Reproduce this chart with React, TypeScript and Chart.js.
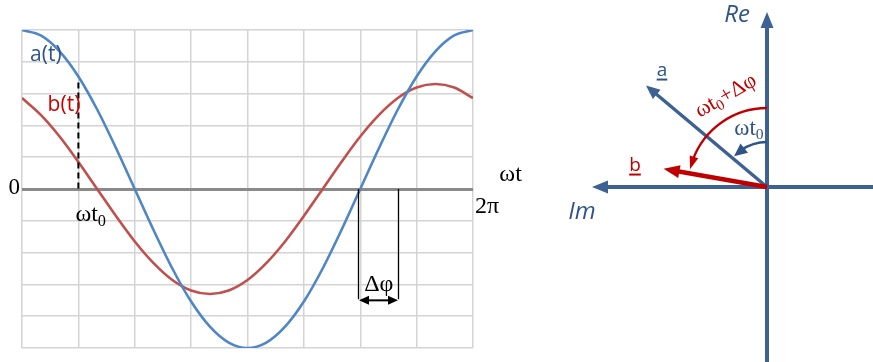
import React, { useEffect, useRef } from "react";
import { Chart, registerables } from "chart.js";

Chart.register(...registerables);

// ---------- time plot data (ωt in degrees, one grid cell = π/4) ----------
const angleDeg = [0, 15, 30, 45, 60, 75, 90, 105, 120, 135, 150, 165, 180, 195, 210, 225, 240, 255, 270, 285, 300, 315, 330, 345, 360];
const aValues = [5.0, 4.83, 4.33, 3.54, 2.5, 1.29, 0.0, -1.29, -2.5, -3.54, -4.33, -4.83, -5.0, -4.83, -4.33, -3.54, -2.5, -1.29, 0.0, 1.29, 2.5, 3.54, 4.33, 4.83, 5.0];
const bValues = [2.86, 2.33, 1.65, 0.85, 0.0, -0.85, -1.65, -2.33, -2.86, -3.19, -3.3, -3.19, -2.86, -2.33, -1.65, -0.85, 0.0, 0.85, 1.65, 2.33, 2.86, 3.19, 3.3, 3.19, 2.86];
const seriesNames = ["a(t)", "b(t)"];
const xRangeDeg = [0, 360];
const xGridStepDeg = 45;
const yRange = [-5, 5];
const yGridStep = 1;
const omegaT0Deg = 45;
const omegaT0Height = 3.35;
const deltaPhiDeg = [268, 300];
const deltaPhiDepth = -3.47;

// ---------- phasor diagram data ----------
const phasorNames = ["a", "b"];
const phasorMagnitudes = [158, 105];
const phasorAnglesDeg = [50, 80];
const arcRadii = [45, 79];
const arcAnglesDeg = [47, 77];
const reAxisRange = [-175, 175];
const imAxisRange = [-106, 175];

// ---------- styles ----------
const CURVE_BLUE = "#4f86c6";
const CURVE_RED = "#c0504d";
const GRID = "#d4d4d4";
const ZERO = "#8a8a8a";
const AXIS_BLUE = "#3d6192";
const LABEL_BLUE = "#2f5489";
const RED = "#c00000";
const TEXT_RED = "#d00000";
const SERIF = '"Liberation Serif", "DejaVu Serif", serif';
const SANS = '"Open Sans", "Noto Sans", sans-serif';

type Part = { t: string; sub?: boolean };
type RichOpts = {
  size: number;
  family: string;
  color: string;
  align?: "left" | "center" | "right";
  style?: string;
  rotate?: number;
  underline?: boolean;
};

function drawRich(ctx: CanvasRenderingContext2D, parts: Part[], x: number, y: number, o: RichOpts) {
  const align = o.align || "center";
  const subSize = o.size * 0.68;
  const fontOf = (sub?: boolean) => `${o.style || ""} ${sub ? subSize : o.size}px ${o.family}`.trim();
  ctx.save();
  ctx.translate(x, y);
  if (o.rotate) ctx.rotate((o.rotate * Math.PI) / 180);
  let total = 0;
  const widths = parts.map((p) => {
    ctx.font = fontOf(p.sub);
    const w = ctx.measureText(p.t).width;
    total += w;
    return w;
  });
  const start = align === "center" ? -total / 2 : align === "right" ? -total : 0;
  let cx = start;
  ctx.fillStyle = o.color;
  ctx.textBaseline = "middle";
  ctx.textAlign = "left";
  parts.forEach((p, i) => {
    ctx.font = fontOf(p.sub);
    ctx.fillText(p.t, cx, p.sub ? o.size * 0.26 : 0);
    cx += widths[i];
  });
  if (o.underline) {
    ctx.strokeStyle = o.color;
    ctx.lineWidth = 2;
    ctx.beginPath();
    ctx.moveTo(start, o.size * 0.45);
    ctx.lineTo(start + total, o.size * 0.45);
    ctx.stroke();
  }
  ctx.restore();
}

function arrowHead(ctx: CanvasRenderingContext2D, tx: number, ty: number, ux: number, uy: number, len: number, half: number, color: string) {
  const bx = tx - ux * len;
  const by = ty - uy * len;
  ctx.save();
  ctx.fillStyle = color;
  ctx.beginPath();
  ctx.moveTo(tx, ty);
  ctx.lineTo(bx - uy * half, by + ux * half);
  ctx.lineTo(bx + uy * half, by - ux * half);
  ctx.closePath();
  ctx.fill();
  ctx.restore();
}

const timeAnnotations = {
  id: "timeAnnotations",
  afterDraw(chart: any) {
    const ctx: CanvasRenderingContext2D = chart.ctx;
    const xs = chart.scales.x;
    const ys = chart.scales.y;
    const px = (v: number) => xs.getPixelForValue(v);
    const py = (v: number) => ys.getPixelForValue(v);
    ctx.save();
    // ωt0 dashed marker
    ctx.strokeStyle = "#000";
    ctx.lineWidth = 2;
    ctx.setLineDash([6, 4]);
    ctx.beginPath();
    ctx.moveTo(px(omegaT0Deg), py(omegaT0Height));
    ctx.lineTo(px(omegaT0Deg), py(0));
    ctx.stroke();
    ctx.setLineDash([]);
    // Δφ bracket
    ctx.lineWidth = 1.3;
    ctx.beginPath();
    deltaPhiDeg.forEach((d) => {
      ctx.moveTo(Math.round(px(d)) + 0.5, py(0));
      ctx.lineTo(Math.round(px(d)) + 0.5, py(deltaPhiDepth));
    });
    ctx.stroke();
    const ay = py(deltaPhiDepth) + 1;
    const x1 = Math.round(px(deltaPhiDeg[0])) + 1;
    const x2 = Math.round(px(deltaPhiDeg[1]));
    ctx.lineWidth = 2;
    ctx.beginPath();
    ctx.moveTo(x1 + 8, ay);
    ctx.lineTo(x2 - 8, ay);
    ctx.stroke();
    arrowHead(ctx, x1, ay, -1, 0, 10, 4.5, "#000");
    arrowHead(ctx, x2, ay, 1, 0, 10, 4.5, "#000");
    ctx.restore();

    // texts
    drawRich(ctx, [{ t: seriesNames[0] }], px(19), py(4.2), { size: 21, family: SANS, color: LABEL_BLUE });
    drawRich(ctx, [{ t: seriesNames[1] }], px(33.5), py(2.65), { size: 21, family: SANS, color: TEXT_RED });
    drawRich(ctx, [{ t: "0" }], px(0) - 2, py(0) - 1, { size: 23, family: SERIF, color: "#000", align: "right" });
    drawRich(ctx, [{ t: "ωt" }], px(390), py(0.44), { size: 24, family: SERIF, color: "#000" });
    drawRich(ctx, [{ t: "2π" }], px(360) + 2, py(-0.57), { size: 24, family: SERIF, color: "#000", align: "left" });
    drawRich(ctx, [{ t: "ωt" }, { t: "0", sub: true }], px(omegaT0Deg) - 3, py(-0.82), { size: 24, family: SERIF, color: "#000", align: "left" });
    drawRich(ctx, [{ t: "Δφ" }], px((deltaPhiDeg[0] + deltaPhiDeg[1]) / 2) + 1, py(-3.02), { size: 24, family: SERIF, color: "#000" });
  },
};

const tipStore = new Map<number, { x: number; y: number; ux: number; uy: number }>();

const phasorPlugin = {
  id: "phasorPlugin",
  beforeDatasetDraw(chart: any, args: any) {
    const ds = chart.data.datasets[args.index];
    if (!ds.arrow) return;
    const pts = args.meta.data;
    const p1 = pts[pts.length - 1];
    const p0 = pts[pts.length - 2];
    const dx = p1.x - p0.x;
    const dy = p1.y - p0.y;
    const L = Math.hypot(dx, dy);
    const tip = { x: p1.x, y: p1.y, ux: dx / L, uy: dy / L };
    tipStore.set(args.index, tip);
    p1.x = tip.x - tip.ux * ds.arrow.len * 0.7;
    p1.y = tip.y - tip.uy * ds.arrow.len * 0.7;
  },
  afterDatasetDraw(chart: any, args: any) {
    const ds = chart.data.datasets[args.index];
    if (!ds.arrow) return;
    const tip = tipStore.get(args.index);
    if (!tip) return;
    const pts = args.meta.data;
    const p1 = pts[pts.length - 1];
    p1.x = tip.x;
    p1.y = tip.y;
    arrowHead(chart.ctx, tip.x, tip.y, tip.ux, tip.uy, ds.arrow.len, ds.arrow.half, ds.borderColor);
  },
  afterDatasetsDraw(chart: any) {
    const ctx: CanvasRenderingContext2D = chart.ctx;
    const xs = chart.scales.x;
    const ys = chart.scales.y;
    const cx = xs.getPixelForValue(0);
    const cy = ys.getPixelForValue(0);
    const unit = Math.abs(ys.getPixelForValue(1) - cy);
    const arcColors = [LABEL_BLUE, RED];
    const heads = [
      { len: 13, half: 6 },
      { len: 13, half: 4.5 },
    ];
    arcRadii.forEach((r, i) => {
      const R = r * unit;
      const th = (arcAnglesDeg[i] * Math.PI) / 180;
      const pt = (t: number) => ({ x: cx - R * Math.sin(t), y: cy - R * Math.cos(t) });
      const d = heads[i].len / R;
      ctx.save();
      ctx.strokeStyle = arcColors[i];
      ctx.lineWidth = 2.3;
      ctx.beginPath();
      ctx.arc(cx, cy, R, -Math.PI / 2, -Math.PI / 2 - (th - d * 0.7), true);
      ctx.stroke();
      ctx.restore();
      const tip = pt(th);
      const back = pt(th - d);
      const L = Math.hypot(tip.x - back.x, tip.y - back.y);
      arrowHead(ctx, tip.x, tip.y, (tip.x - back.x) / L, (tip.y - back.y) / L, heads[i].len, heads[i].half, arcColors[i]);
    });

    const P = (im: number, re: number) => ({ x: xs.getPixelForValue(im), y: ys.getPixelForValue(re) });
    let p = P(30, 172);
    drawRich(ctx, [{ t: "Re" }], p.x, p.y, { size: 24, family: SANS, color: LABEL_BLUE, style: "italic" });
    p = P(185, -25);
    drawRich(ctx, [{ t: "Im" }], p.x, p.y, { size: 24, family: SANS, color: LABEL_BLUE, style: "italic" });
    p = P(105, 116);
    drawRich(ctx, [{ t: phasorNames[0] }], p.x, p.y, { size: 19, family: SANS, color: LABEL_BLUE, underline: true });
    p = P(132, 21);
    drawRich(ctx, [{ t: phasorNames[1] }], p.x, p.y, { size: 19, family: SANS, color: RED, underline: true });
    p = P(18, 58);
    drawRich(ctx, [{ t: "ωt" }, { t: "0", sub: true }], p.x, p.y, { size: 23, family: SERIF, color: LABEL_BLUE });
    p = P(41, 91);
    drawRich(ctx, [{ t: "ωt" }, { t: "0", sub: true }, { t: "+Δφ" }], p.x, p.y, { size: 22, family: SERIF, color: RED, rotate: -30 });
  },
};

export default function App() {
  const leftRef = useRef<HTMLCanvasElement>(null);
  const rightRef = useRef<HTMLCanvasElement>(null);

  useEffect(() => {
    const c1 = new Chart(leftRef.current as HTMLCanvasElement, {
      type: "line",
      data: {
        datasets: [
          {
            label: seriesNames[0],
            data: angleDeg.map((x, i) => ({ x, y: aValues[i] })),
            borderColor: CURVE_BLUE,
            borderWidth: 2.6,
            pointRadius: 0,
            cubicInterpolationMode: "monotone",
            fill: false,
          },
          {
            label: seriesNames[1],
            data: angleDeg.map((x, i) => ({ x, y: bValues[i] })),
            borderColor: CURVE_RED,
            borderWidth: 2.6,
            pointRadius: 0,
            cubicInterpolationMode: "monotone",
            fill: false,
          },
        ],
      },
      options: {
        responsive: false,
        animation: false,
        events: [],
        layout: { padding: { left: 22, top: 30, right: 67, bottom: 14 } },
        plugins: { legend: { display: false }, tooltip: { enabled: false } },
        scales: {
          x: {
            type: "linear",
            min: xRangeDeg[0],
            max: xRangeDeg[1],
            ticks: { display: false, stepSize: xGridStepDeg },
            grid: { drawTicks: false, color: GRID, lineWidth: 1.5 },
            border: { display: false },
          },
          y: {
            type: "linear",
            min: yRange[0],
            max: yRange[1],
            ticks: { display: false, stepSize: yGridStep },
            grid: {
              drawTicks: false,
              color: (c: any) => (c.tick && c.tick.value === 0 ? ZERO : GRID),
              lineWidth: (c: any) => (c.tick && c.tick.value === 0 ? 3 : 1.5),
            },
            border: { display: false },
          },
        },
      },
      plugins: [timeAnnotations],
    } as any);

    const phasorPoint = (i: number) => {
      const t = (phasorAnglesDeg[i] * Math.PI) / 180;
      return { x: phasorMagnitudes[i] * Math.sin(t), y: phasorMagnitudes[i] * Math.cos(t) };
    };

    const c2 = new Chart(rightRef.current as HTMLCanvasElement, {
      type: "scatter",
      data: {
        datasets: [
          {
            label: phasorNames[1],
            data: [{ x: 0, y: 0 }, phasorPoint(1)],
            borderColor: RED,
            borderWidth: 4.5,
            arrow: { len: 16, half: 6.5 },
          },
          {
            label: phasorNames[0],
            data: [{ x: 0, y: 0 }, phasorPoint(0)],
            borderColor: AXIS_BLUE,
            borderWidth: 3.5,
            arrow: { len: 14, half: 6 },
          },
          {
            label: "Re",
            data: [{ x: 0, y: reAxisRange[0] }, { x: 0, y: reAxisRange[1] }],
            borderColor: AXIS_BLUE,
            borderWidth: 4,
            arrow: { len: 16, half: 6.5 },
          },
          {
            label: "Im",
            data: [{ x: imAxisRange[0], y: 0 }, { x: imAxisRange[1], y: 0 }],
            borderColor: AXIS_BLUE,
            borderWidth: 4,
            arrow: { len: 16, half: 6.5 },
          },
        ].map((d) => ({ ...d, showLine: true, pointRadius: 0, borderCapStyle: "butt", clip: false })),
      },
      options: {
        responsive: false,
        animation: false,
        events: [],
        layout: { padding: 0 },
        plugins: { legend: { display: false }, tooltip: { enabled: false } },
        scales: {
          x: { type: "linear", display: false, min: -106, max: 227, reverse: true },
          y: { type: "linear", display: false, min: -175, max: 187 },
        },
      },
      plugins: [phasorPlugin],
    } as any);

    return () => {
      c1.destroy();
      c2.destroy();
    };
  }, []);

  return (
    <div style={{ position: "fixed", left: 0, top: 0, width: 873, height: 362, background: "#fff", overflow: "hidden" }}>
      <canvas ref={leftRef} width={540} height={362} style={{ position: "absolute", left: 0, top: 0 }} />
      <canvas ref={rightRef} width={333} height={362} style={{ position: "absolute", left: 540, top: 0 }} />
    </div>
  );
}
